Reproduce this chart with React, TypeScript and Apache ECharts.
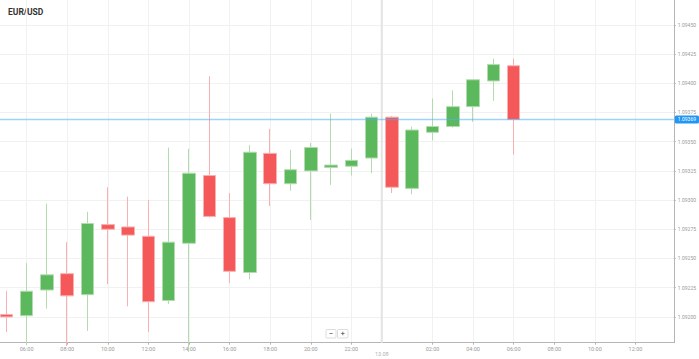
import { useEffect, useRef } from "react";
import * as echarts from "echarts";

// hour index (5 = 05:00 day 1, 24 = 00:00 on 13.08)
const hours = [5, 6, 7, 8, 9, 10, 11, 12, 13, 14, 15, 16, 17, 18, 19, 20, 21, 22, 23, 24, 25, 26, 27, 28, 29, 30];
const opens = [1.09202, 1.09201, 1.09223, 1.09237, 1.09219, 1.09279, 1.09277, 1.09269, 1.09214, 1.09263, 1.09321, 1.09285, 1.09238, 1.0934, 1.09314, 1.09325, 1.09328, 1.09329, 1.09336, 1.09371, 1.0931, 1.09358, 1.09363, 1.0938, 1.09402, 1.09415];
const closes = [1.092, 1.09222, 1.09236, 1.09218, 1.0928, 1.09275, 1.0927, 1.09213, 1.09264, 1.09323, 1.09286, 1.09239, 1.09341, 1.09314, 1.09326, 1.09345, 1.0933, 1.09334, 1.09371, 1.09311, 1.0936, 1.09363, 1.0938, 1.09403, 1.09416, 1.09369];
const lows = [1.09187, 1.09176, 1.09207, 1.09175, 1.09188, 1.09228, 1.09209, 1.09187, 1.09211, 1.0917, 1.09285, 1.09229, 1.09232, 1.09295, 1.09308, 1.09283, 1.09313, 1.09321, 1.09323, 1.09306, 1.09305, 1.09351, 1.09362, 1.09367, 1.09385, 1.09339];
const highs = [1.09222, 1.09246, 1.09297, 1.09264, 1.0929, 1.09311, 1.09303, 1.093, 1.09345, 1.09344, 1.09406, 1.09306, 1.09347, 1.09361, 1.09343, 1.09349, 1.09374, 1.09344, 1.09374, 1.09372, 1.09363, 1.09387, 1.09394, 1.09403, 1.09421, 1.09421];

const yTicks = [1.092, 1.09225, 1.0925, 1.09275, 1.093, 1.09325, 1.0935, 1.09375, 1.094, 1.09425, 1.0945];
const xTicks = [6, 8, 10, 12, 14, 16, 18, 20, 22, 26, 28, 30, 32, 34, 36];
const xMin = 4.688;
const xMax = 37.89;
const yMin = 1.091779;
const yMax = 1.094713;
const lastPrice = 1.09369;
const dayMarkHour = 23.5;
const dayLabel = "13.08";
const title = "EUR/USD";

export default function App() {
  const ref = useRef<HTMLDivElement>(null);
  useEffect(() => {
    if (!ref.current) return;
    const chart = echarts.init(ref.current, undefined, { renderer: "svg" });
    const data = hours.map((h, i) => [h, opens[i], closes[i], lows[i], highs[i]]);
    chart.setOption({
      animation: false,
      backgroundColor: "#ffffff",
      grid: { left: 0, right: 23.3, top: 0, bottom: 16.3 },
      xAxis: {
        type: "value",
        min: xMin,
        max: xMax,
        axisLine: { show: true, lineStyle: { color: "#b5b5b5", width: 1 } },
        axisTick: { show: true, length: 2, customValues: xTicks, lineStyle: { color: "#b5b5b5" } },
        axisLabel: {
          customValues: xTicks,
          fontSize: 5.5,
          color: "#9a9a9a",
          fontFamily: "Roboto",
          margin: 3,
          formatter: (v: number) => {
            const h = Math.round(v) % 24;
            return (h < 10 ? "0" : "") + h + ":00";
          },
        },
        splitLine: { show: true, lineStyle: { color: "#f1f1f1", width: 1 } },
      },
      yAxis: {
        type: "value",
        position: "right",
        min: yMin,
        max: yMax,
        scale: true,
        axisLine: { show: true, lineStyle: { color: "#b5b5b5", width: 1 } },
        axisTick: { show: true, length: 2, customValues: yTicks, lineStyle: { color: "#b5b5b5" } },
        axisLabel: {
          customValues: yTicks,
          fontSize: 5,
          color: "#9a9a9a",
          fontFamily: "Roboto",
          margin: 4,
          formatter: (v: number) => v.toFixed(5),
        },
        splitLine: { show: true, lineStyle: { color: "#f1f1f1", width: 1 } },
      },
      graphic: [
        {
          type: "text",
          left: 8,
          top: 7,
          style: { text: title, fontSize: 8.5, fontWeight: "bold", fill: "#333333", fontFamily: "Roboto" },
        },
        {
          type: "rect",
          shape: { x: 326, y: 329.5, width: 10, height: 8.5, r: 1 },
          style: { fill: "#ffffff", stroke: "#dddddd", lineWidth: 1 },
        },
        {
          type: "rect",
          shape: { x: 337.5, y: 329.5, width: 10.5, height: 8.5, r: 1 },
          style: { fill: "#ffffff", stroke: "#dddddd", lineWidth: 1 },
        },
        {
          type: "text",
          x: 331,
          y: 333.8,
          style: { text: "−", fontSize: 8, fill: "#444444", align: "center", verticalAlign: "middle", fontFamily: "Roboto" },
        },
        {
          type: "text",
          x: 342.7,
          y: 333.8,
          style: { text: "+", fontSize: 8, fill: "#444444", align: "center", verticalAlign: "middle", fontFamily: "Roboto" },
        },
      ],
      series: [
        {
          type: "line",
          name: "day",
          data: [
            [dayMarkHour, yMax],
            [dayMarkHour, yMin],
          ],
          showSymbol: false,
          symbol: "none",
          silent: true,
          lineStyle: { color: "#e3e3e3", width: 2 },
          itemStyle: { color: "#e3e3e3" },
          z: 1,
        },
        {
          type: "scatter",
          name: "dayLabel",
          data: [[dayMarkHour, yMin]],
          symbolSize: 0.1,
          silent: true,
          clip: false,
          itemStyle: { color: "rgba(0,0,0,0)" },
          label: {
            show: true,
            position: "bottom",
            distance: 8,
            formatter: dayLabel,
            fontSize: 5.5,
            color: "#9a9a9a",
            fontFamily: "Roboto",
          },
        },
        {
          type: "candlestick",
          data,
          encode: { x: 0, y: [1, 2, 3, 4] },
          barWidth: 13,
          clip: true,
          z: 3,
          itemStyle: {
            color: "#5cb85c",
            color0: "#f55858",
            borderColor: "#b3dcae",
            borderColor0: "#f8b0b0",
            borderWidth: 1,
          },
        },
        {
          type: "line",
          name: "price",
          data: [
            [xMin, lastPrice],
            [xMax, lastPrice],
          ],
          showSymbol: false,
          symbol: "none",
          silent: true,
          z: 4,
          lineStyle: { color: "#4fb0f0", width: 1.5, opacity: 0.55 },
          itemStyle: { color: "#4fb0f0" },
          endLabel: {
            show: true,
            formatter: lastPrice.toFixed(5),
            fontSize: 5,
            color: "#ffffff",
            backgroundColor: "#2196f3",
            padding: [1.5, 3],
            borderRadius: 1.5,
            distance: 1,
            fontFamily: "Roboto",
          },
        },
      ],
    });
    return () => chart.dispose();
  }, []);
  return <div ref={ref} style={{ position: "fixed", left: 0, top: 0, width: 699, height: 359 }} />;
}
